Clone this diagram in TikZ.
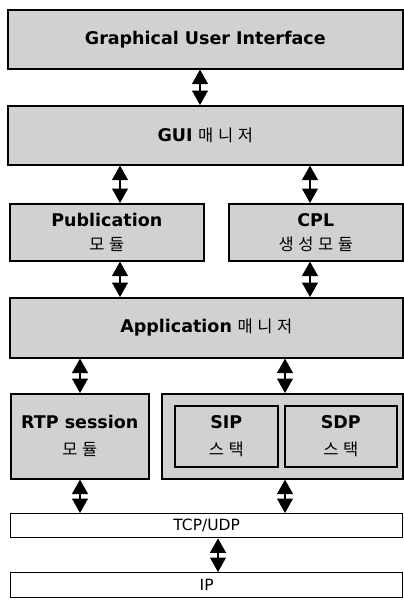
\documentclass[tikz,border=0pt]{standalone}
\usepackage{fontspec}
\setmainfont{DejaVu Sans}
\newfontfamily\kr{Noto Sans CJK KR}
\usetikzlibrary{arrows.meta}
\begin{document}
\begin{tikzpicture}[x=1pt,y=-1pt,
  box/.style={draw, line width=1.6pt, fill=black!18, inner sep=0pt, anchor=north west, align=center,
    font=\fontsize{17.5}{24}\selectfont},
  tall/.style={font=\fontsize{17.5}{27}\selectfont},
  wbox/.style={draw, line width=1.4pt, fill=white, inner sep=0pt, anchor=north west, align=center,
    font=\fontsize{15.5}{18}\selectfont},
  link/.style={line width=1.2pt, {Triangle[width=16pt,length=14.5pt]}-{Triangle[width=16pt,length=14.5pt]}}]
\useasboundingbox (0,0) rectangle (404,600);
\newcommand\K[1]{{\kr\fontsize{16.5}{18}\selectfont #1}}
\newcommand\B[1]{{\bfseries #1}}
\newcommand\kg{\hspace{0.28em}}
% boxes
\node[box, minimum width=395pt, minimum height=59pt] (gui) at (7,9) {\B{Graphical User Interface}};
\node[box, minimum width=395pt, minimum height=59pt] (guim) at (7,105) {\B{GUI} \K{매\kg 니\kg 저}};
\node[box, minimum width=194pt, minimum height=57pt] (pub) at (9,203) {\B{Publication}\\\K{모\kg 듈}};
\node[box, minimum width=174pt, minimum height=57pt] (cpl) at (228,203) {\B{CPL}\\\K{생\kg 성\kg 모\kg 듈}};
\node[box, minimum width=393pt, minimum height=60pt] (app) at (9,297) {\B{Application} \K{매\kg 니\kg 저}};
\node[box, tall, minimum width=138pt, minimum height=85pt] (rtp) at (10,393) {\B{RTP session}\\\K{모\kg 듈}};
\node[box, minimum width=241pt, minimum height=85pt] (stk) at (161,393) {};
\node[box, tall, minimum width=103pt, minimum height=61pt] (sip) at (174,405) {\B{SIP}\\\K{스\kg 택}};
\node[box, tall, minimum width=112pt, minimum height=61pt] (sdp) at (284,405) {\B{SDP}\\\K{스\kg 택}};
\node[wbox, minimum width=392pt, minimum height=24pt] (tcp) at (10,513) {TCP/UDP};
\node[wbox, minimum width=392pt, minimum height=25pt] (ip) at (10,572) {IP};
% arrow columns
\coordinate (c1) at (200,0);
\coordinate (c2) at (120,0);
\coordinate (c3) at (310,0);
\coordinate (c4) at (80,0);
\coordinate (c5) at (285,0);
\coordinate (c6) at (218,0);
\draw[link] (gui.south -| c1) -- (guim.north -| c1);
\draw[link] (guim.south -| c2) -- (pub.north -| c2);
\draw[link] (guim.south -| c3) -- (cpl.north -| c3);
\draw[link] (pub.south -| c2) -- (app.north -| c2);
\draw[link] (cpl.south -| c3) -- (app.north -| c3);
\draw[link] (app.south -| c4) -- (rtp.north -| c4);
\draw[link] (app.south -| c5) -- (stk.north -| c5);
\draw[link] (rtp.south -| c4) -- (tcp.north -| c4);
\draw[link] (stk.south -| c5) -- (tcp.north -| c5);
\draw[link] (tcp.south -| c6) -- (ip.north -| c6);
\end{tikzpicture}
\end{document}
